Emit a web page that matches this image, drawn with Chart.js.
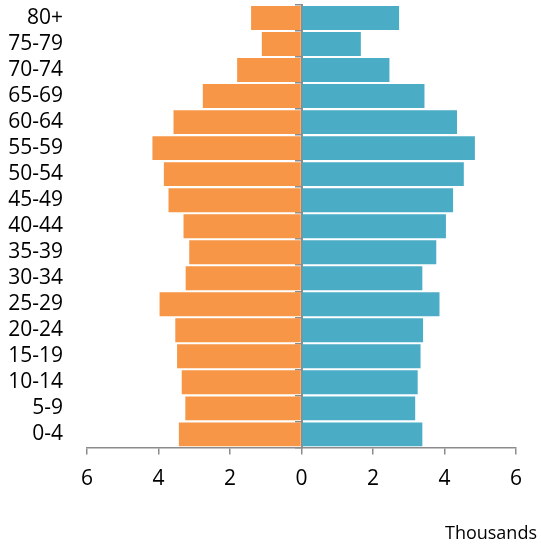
<!DOCTYPE html>
<html>
<head>
<meta charset="utf-8">
<script src="https://cdn.jsdelivr.net/npm/chart.js@4/dist/chart.umd.min.js"></script>
<style>
  html, body { margin: 0; padding: 0; background: #ffffff; }
  #wrap { width: 541px; height: 546px; position: relative; }
</style>
</head>
<body>
<div id="wrap"><canvas id="c"></canvas></div>
<script>
// Age groups, top to bottom as shown
const ageGroups = ['80+', '75-79', '70-74', '65-69', '60-64', '55-59', '50-54', '45-49',
  '40-44', '35-39', '30-34', '25-29', '20-24', '15-19', '10-14', '5-9', '0-4'];
// Left side (orange), thousands
const leftValues = [1.41, 1.11, 1.80, 2.76, 3.58, 4.17, 3.85, 3.72,
  3.30, 3.14, 3.24, 3.97, 3.53, 3.48, 3.35, 3.25, 3.43];
// Right side (blue), thousands
const rightValues = [2.73, 1.66, 2.46, 3.44, 4.35, 4.85, 4.54, 4.24,
  4.04, 3.77, 3.38, 3.86, 3.40, 3.33, 3.25, 3.18, 3.38];
const xTicks = [-6, -4, -2, 0, 2, 4, 6];
const unitLabel = 'Thousands';

const FONT = "'Open Sans', 'Liberation Sans', sans-serif";
const AXIS_GREY = '#8c8c8c';

new Chart(document.getElementById('c'), {
  type: 'bar',
  data: {
    labels: ageGroups,
    datasets: [
      {
        data: leftValues.map(v => -v),
        backgroundColor: '#F79646',
        borderWidth: 0,
        barPercentage: 0.92,
        categoryPercentage: 1.0
      },
      {
        data: rightValues,
        backgroundColor: '#4BACC6',
        borderWidth: 0,
        barPercentage: 0.92,
        categoryPercentage: 1.0
      }
    ]
  },
  options: {
    indexAxis: 'y',
    responsive: true,
    maintainAspectRatio: false,
    animation: false,
    layout: { padding: { top: 5, right: 4, bottom: 1, left: 0 } },
    plugins: {
      legend: { display: false },
      tooltip: { enabled: false },
      title: {
        display: true,
        text: unitLabel,
        position: 'bottom',
        align: 'end',
        color: '#000000',
        font: { family: FONT, size: 18, weight: 'normal' },
        padding: { top: 0, bottom: 0 }
      }
    },
    scales: {
      x: {
        stacked: true,
        min: -6,
        max: 6,
        afterBuildTicks: s => { s.ticks = xTicks.map(v => ({ value: v })); },
        afterFit: s => { s.height = 76; },
        ticks: {
          color: '#000000',
          font: { family: FONT, size: 21 },
          padding: 12,
          maxRotation: 0,
          callback: v => String(Math.abs(v))
        },
        grid: {
          display: true,
          drawOnChartArea: false,
          drawTicks: true,
          tickLength: 7,
          color: AXIS_GREY,
          lineWidth: 1.5
        },
        border: { display: true, color: AXIS_GREY, width: 1.5 }
      },
      y: {
        stacked: true,
        position: 'left',
        afterFit: s => { s.width = 87; s.paddingTop = 0; s.paddingBottom = 0; },
        ticks: {
          color: '#000000',
          font: { family: FONT, size: 21 },
          padding: 0,
          autoSkip: false
        },
        grid: {
          display: true,
          drawOnChartArea: false,
          drawTicks: true,
          tickLength: 24,
          color: 'rgba(0,0,0,0)'
        },
        border: { display: false }
      },
      yZero: {
        type: 'category',
        labels: ageGroups,
        position: { x: 0 },
        offset: true,
        ticks: { display: false, autoSkip: false },
        grid: {
          offset: true,
          drawOnChartArea: false,
          drawTicks: true,
          tickLength: 6,
          color: AXIS_GREY,
          lineWidth: 1.5
        },
        border: { display: true, color: AXIS_GREY, width: 2 }
      },
      ySpacer: {
        type: 'category',
        labels: ageGroups,
        position: 'right',
        afterFit: s => { s.width = 21; s.paddingTop = 0; s.paddingBottom = 0; },
        ticks: { display: false },
        grid: { display: false, drawTicks: false },
        border: { display: false }
      }
    }
  }
});
</script>
</body>
</html>
